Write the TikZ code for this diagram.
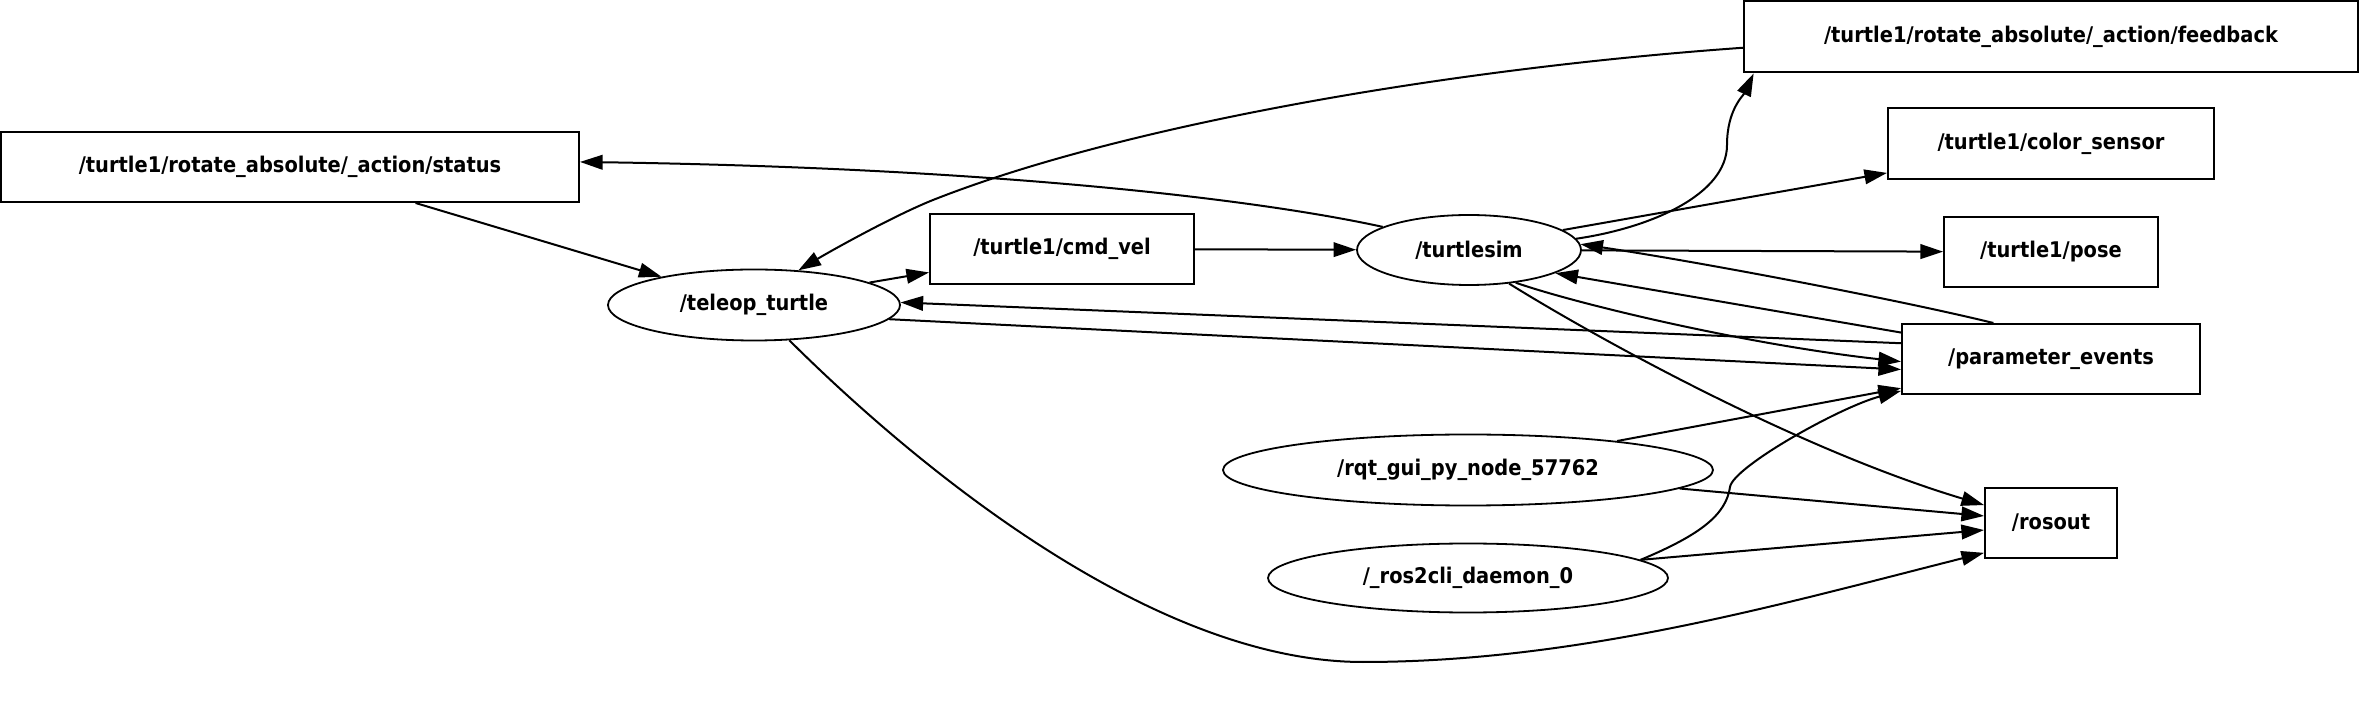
\documentclass[tikz,border=0pt]{standalone}
\usepackage{fontspec}
\newfontfamily\graphfont{DejaVuSansCondensed-Bold.ttf}
\usetikzlibrary{shapes.geometric,arrows.meta}

\begin{document}
\begin{tikzpicture}[x=0.5pt, y=-0.5pt, >={Triangle[length=11.3pt,width=7.3pt]}, line width=1pt,
    topic/.style={draw, rectangle, inner sep=0pt, font=\graphfont\fontsize{10.8}{13}\selectfont},
    rosnode/.style={draw, ellipse, inner sep=0pt, line width=0.9pt, font=\graphfont\fontsize{10.8}{13}\selectfont}]
        \useasboundingbox (0,0) rectangle (2361,715);
        % ==== TOPICS ====
        \node[topic, minimum width=307pt, minimum height=35.5pt] (feedback) at (2051,37) {/turtle1/rotate\_absolute/\_action/feedback};
        \node[topic, minimum width=289pt, minimum height=35pt] (status) at (290,167) {/turtle1/rotate\_absolute/\_action/status};
        \node[topic, minimum width=163pt, minimum height=35.5pt] (colorsensor) at (2051,144) {/turtle1/color\_sensor};
        \node[topic, minimum width=107pt, minimum height=35pt] (pose) at (2051,252) {/turtle1/pose};
        \node[topic, minimum width=132pt, minimum height=35pt] (cmdvel) at (1062,249) {/turtle1/cmd\_vel};
        \node[topic, minimum width=149pt, minimum height=35pt] (paramevents) at (2051,359) {/parameter\_events};
        \node[topic, minimum width=66pt, minimum height=35pt] (rosout) at (2051,523) {/rosout};

        % ==== NODES ====
        \node[rosnode, minimum width=112pt, minimum height=35pt] (turtlesim) at (1469,250) {/turtlesim};
        \node[rosnode, minimum width=146pt, minimum height=35.5pt] (teleop) at (754,305) {/teleop\_turtle};
        \node[rosnode, minimum width=245pt, minimum height=35.5pt] (rqt) at (1468,470) {/rqt\_gui\_py\_node\_57762};
        \node[rosnode, minimum width=200pt, minimum height=34.5pt] (cli) at (1468,578) {/\_ros2cli\_daemon\_0};

        % ==== EDGES ====
        \draw[->] (status.-16) -- (teleop.163);
        \draw[->] (teleop.11) -- (cmdvel.190);
        \draw[->] (cmdvel) -- (turtlesim);
        \draw[->] (turtlesim) -- (pose);
        \draw[->] (turtlesim.12) -- (colorsensor.190);
        \draw[->] (turtlesim.165) .. controls (1260,200) and (1000,168) .. (status.1);
        \draw[->] (feedback.182) .. controls (1444,69) and (1120,126) .. (933,200)
            .. controls (893,216) and (829,252) .. (teleop.38);
        \draw[->] (turtlesim.6) .. controls (1650,228) and (1727,195) .. (1727,145)
            .. controls (1727,110) and (1743,96) .. (feedback.187);
        \draw[->] (paramevents.148) .. controls (1900,300) and (1700,262) .. (turtlesim.3);
        \draw[->] (paramevents.170) -- (turtlesim.-15);
        \draw[->] (turtlesim.-35) .. controls (1580,305) and (1750,345) .. (paramevents.181);
        \draw[->] (turtlesim.-40) .. controls (1600,340) and (1800,450) .. (rosout.165);
        \draw[->] (teleop.-6) -- (paramevents.184);
        \draw[->] (paramevents.174) -- (teleop.1);
        \draw[->] (rqt.11) -- (paramevents.191);
        \draw[->] (cli.6) .. controls (1700,535) and (1726,515) .. (1730,487)
            .. controls (1733,467) and (1840,407) .. (paramevents.192);
        \draw[->] (rqt.-5) -- (rosout.174);
        \draw[->] (cli.6) -- (rosout.186);
        \draw[->] (teleop.-45) .. controls (930,480) and (1160,662) .. (1363,662)
            .. controls (1580,662) and (1785,603) .. (rosout.204);
     \end{tikzpicture}
\end{document}
